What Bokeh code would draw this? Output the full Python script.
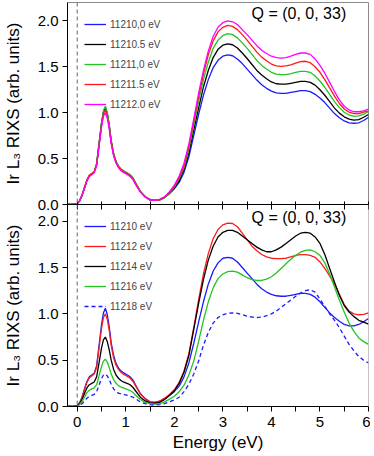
from bokeh.plotting import figure
from bokeh.models import (Range1d, FixedTicker, NumeralTickFormatter, Span, Label,
                          Legend, LegendItem)
from bokeh.layouts import column
from bokeh.embed import file_html
from bokeh.resources import INLINE

# ---------------- data ----------------
energy = [-0.2, -0.1, 0.0, 0.05, 0.1, 0.15, 0.2, 0.25, 0.3, 0.35,
          0.4, 0.45, 0.5, 0.54, 0.58, 0.62, 0.66, 0.7, 0.75, 0.8,
          0.85, 0.9, 0.95, 1.0, 1.05, 1.1, 1.15, 1.2, 1.3, 1.4,
          1.5, 1.6, 1.7, 1.8, 1.9,
          2.0, 2.1, 2.2, 2.3, 2.4, 2.5, 2.6, 2.7, 2.8, 2.9,
          3.0, 3.1, 3.2, 3.3, 3.4, 3.5, 3.6, 3.7, 3.8, 3.9,
          4.0, 4.1, 4.2, 4.3, 4.4, 4.5, 4.6, 4.7, 4.8, 4.9,
          5.0, 5.1, 5.2, 5.3, 5.4, 5.5, 5.6, 5.7, 5.8, 5.9,
          6.0]

# top panel: incident energies 11210.0 ... 11212.0 eV
top_labels = ["11210,0 eV", "11210.5 eV", "11211,0 eV", "11211.5 eV", "11212.0 eV"]
top_colors = ["#1a1aff", "#000000", "#22c322", "#ff1a1a", "#ff00ff"]

top_11210_0 = [0, 0, 0.01, 0.04, 0.10, 0.18, 0.26, 0.31, 0.33, 0.35,
               0.43, 0.65, 0.87, 1.00, 1.05, 0.98, 0.85, 0.68, 0.54, 0.46,
               0.41, 0.38, 0.36, 0.345, 0.33, 0.31, 0.28, 0.23, 0.14, 0.085,
               0.055, 0.045, 0.055, 0.08, 0.12,
               0.17, 0.24, 0.35, 0.52, 0.75, 0.98, 1.19, 1.36, 1.49, 1.57,
               1.615, 1.63, 1.62, 1.585, 1.535, 1.475, 1.415, 1.355, 1.305, 1.265,
               1.235, 1.215, 1.21, 1.21, 1.22, 1.23, 1.24, 1.24, 1.23, 1.20,
               1.16, 1.11, 1.05, 0.99, 0.945, 0.91, 0.89, 0.885, 0.89, 0.915,
               0.95]
top_11210_5 = [0, 0, 0.01, 0.04, 0.10, 0.18, 0.26, 0.315, 0.335, 0.355,
               0.44, 0.66, 0.88, 1.01, 1.06, 0.99, 0.86, 0.69, 0.55, 0.465,
               0.415, 0.385, 0.365, 0.35, 0.335, 0.315, 0.285, 0.235, 0.14, 0.085,
               0.05, 0.045, 0.05, 0.075, 0.12,
               0.18, 0.26, 0.38, 0.56, 0.81, 1.05, 1.28, 1.46, 1.60, 1.69,
               1.735, 1.75, 1.74, 1.705, 1.65, 1.59, 1.525, 1.46, 1.41, 1.37,
               1.335, 1.315, 1.31, 1.31, 1.32, 1.33, 1.34, 1.34, 1.33, 1.30,
               1.25, 1.19, 1.12, 1.05, 0.995, 0.955, 0.93, 0.92, 0.925, 0.95,
               0.98]
top_11211_0 = [0, 0, 0.01, 0.04, 0.10, 0.19, 0.27, 0.32, 0.34, 0.36,
               0.45, 0.67, 0.89, 1.02, 1.07, 1.00, 0.87, 0.70, 0.56, 0.47,
               0.42, 0.39, 0.37, 0.355, 0.34, 0.32, 0.29, 0.24, 0.145, 0.085,
               0.05, 0.045, 0.05, 0.075, 0.125,
               0.19, 0.28, 0.40, 0.60, 0.86, 1.12, 1.36, 1.55, 1.70, 1.79,
               1.84, 1.86, 1.85, 1.815, 1.76, 1.70, 1.635, 1.57, 1.515, 1.475,
               1.44, 1.42, 1.415, 1.415, 1.425, 1.44, 1.45, 1.45, 1.44, 1.40,
               1.345, 1.275, 1.20, 1.12, 1.055, 1.005, 0.975, 0.96, 0.965, 0.985,
               1.01]
top_11211_5 = [0, 0, 0.01, 0.04, 0.10, 0.185, 0.265, 0.315, 0.335, 0.355,
               0.44, 0.65, 0.86, 0.985, 1.03, 0.965, 0.84, 0.68, 0.545, 0.46,
               0.41, 0.38, 0.36, 0.345, 0.33, 0.31, 0.28, 0.23, 0.14, 0.085,
               0.05, 0.045, 0.05, 0.08, 0.13,
               0.20, 0.29, 0.42, 0.63, 0.90, 1.17, 1.42, 1.63, 1.78, 1.88,
               1.93, 1.95, 1.94, 1.905, 1.85, 1.79, 1.725, 1.66, 1.605, 1.565,
               1.53, 1.51, 1.505, 1.51, 1.52, 1.54, 1.555, 1.56, 1.545, 1.50,
               1.44, 1.36, 1.27, 1.18, 1.10, 1.04, 1.005, 0.99, 0.99, 1.005,
               1.02]
top_11212_0 = [0, 0, 0.01, 0.04, 0.10, 0.18, 0.26, 0.305, 0.325, 0.345,
               0.42, 0.63, 0.84, 0.96, 1.00, 0.94, 0.82, 0.66, 0.53, 0.45,
               0.40, 0.37, 0.35, 0.335, 0.32, 0.30, 0.27, 0.22, 0.135, 0.08,
               0.05, 0.045, 0.055, 0.085, 0.14,
               0.21, 0.31, 0.45, 0.66, 0.93, 1.21, 1.46, 1.67, 1.83, 1.93,
               1.98, 2.00, 1.99, 1.96, 1.905, 1.85, 1.79, 1.73, 1.68, 1.645,
               1.615, 1.60, 1.595, 1.60, 1.615, 1.635, 1.65, 1.65, 1.635, 1.585,
               1.515, 1.43, 1.33, 1.23, 1.14, 1.07, 1.03, 1.01, 1.01, 1.02,
               1.04]

# bottom panel: incident energies 11210 ... 11218 eV
bot_labels = ["11210 eV", "11212 eV", "11214 eV", "11216 eV", "11218 eV"]
bot_colors = ["#1a1aff", "#ff1a1a", "#000000", "#22c322", "#1a1aff"]
bot_dashes = ["solid", "solid", "solid", "solid", "4 3"]

bot_11210 = [0, 0, 0.01, 0.04, 0.10, 0.19, 0.27, 0.32, 0.34, 0.36,
             0.44, 0.66, 0.88, 1.01, 1.06, 0.99, 0.86, 0.69, 0.55, 0.465,
             0.415, 0.385, 0.365, 0.35, 0.335, 0.315, 0.285, 0.235, 0.14, 0.085,
             0.05, 0.045, 0.055, 0.08, 0.12,
             0.16, 0.22, 0.32, 0.47, 0.68, 0.91, 1.13, 1.32, 1.46, 1.55,
             1.60, 1.61, 1.60, 1.56, 1.50, 1.44, 1.38, 1.32, 1.27, 1.235,
             1.21, 1.195, 1.19, 1.19, 1.20, 1.21, 1.22, 1.22, 1.21, 1.18,
             1.13, 1.07, 1.01, 0.96, 0.92, 0.885, 0.87, 0.87, 0.885, 0.915,
             0.95]
bot_11212 = [0, 0, 0.01, 0.04, 0.10, 0.18, 0.26, 0.31, 0.33, 0.35,
             0.42, 0.63, 0.84, 0.96, 1.00, 0.94, 0.82, 0.66, 0.525, 0.445,
             0.40, 0.37, 0.35, 0.335, 0.32, 0.30, 0.27, 0.225, 0.135, 0.08,
             0.05, 0.045, 0.06, 0.09, 0.13,
             0.18, 0.26, 0.38, 0.57, 0.85, 1.15, 1.43, 1.65, 1.81, 1.91,
             1.96, 1.98, 1.975, 1.94, 1.87, 1.80, 1.73, 1.68, 1.64, 1.615,
             1.60, 1.595, 1.595, 1.60, 1.615, 1.63, 1.64, 1.64, 1.63, 1.61,
             1.56, 1.49, 1.41, 1.32, 1.21, 1.10, 1.03, 1.00, 0.99, 0.995,
             1.01]
bot_11214 = [0, 0, 0.005, 0.03, 0.075, 0.14, 0.20, 0.235, 0.25, 0.265,
             0.32, 0.47, 0.63, 0.72, 0.75, 0.70, 0.61, 0.50, 0.40, 0.34,
             0.305, 0.28, 0.265, 0.255, 0.245, 0.23, 0.205, 0.17, 0.10, 0.06,
             0.04, 0.035, 0.045, 0.075, 0.12,
             0.17, 0.25, 0.37, 0.55, 0.83, 1.11, 1.37, 1.58, 1.73, 1.83,
             1.88, 1.90, 1.90, 1.88, 1.84, 1.80, 1.76, 1.72, 1.69, 1.67,
             1.67, 1.69, 1.72, 1.76, 1.80, 1.84, 1.87, 1.88, 1.87, 1.83,
             1.76, 1.64, 1.49, 1.34, 1.20, 1.09, 1.02, 0.97, 0.93, 0.91,
             0.89]
bot_11216 = [0, 0, 0.005, 0.02, 0.055, 0.10, 0.15, 0.175, 0.19, 0.20,
             0.235, 0.33, 0.43, 0.49, 0.51, 0.48, 0.42, 0.35, 0.29, 0.25,
             0.225, 0.21, 0.20, 0.19, 0.18, 0.17, 0.15, 0.125, 0.075, 0.045,
             0.03, 0.025, 0.03, 0.05, 0.08,
             0.11, 0.16, 0.23, 0.34, 0.49, 0.70, 0.93, 1.13, 1.28, 1.38,
             1.43, 1.455, 1.46, 1.45, 1.42, 1.39, 1.37, 1.36, 1.36, 1.375,
             1.40, 1.44, 1.49, 1.54, 1.59, 1.63, 1.665, 1.685, 1.69, 1.67,
             1.63, 1.55, 1.43, 1.29, 1.15, 1.02, 0.90, 0.81, 0.74, 0.70,
             0.67]
bot_11218 = [0, 0, 0.0, 0.01, 0.03, 0.06, 0.09, 0.11, 0.12, 0.13,
             0.16, 0.23, 0.30, 0.34, 0.35, 0.33, 0.29, 0.24, 0.19, 0.16,
             0.145, 0.135, 0.13, 0.125, 0.12, 0.11, 0.10, 0.085, 0.05, 0.03,
             0.02, 0.015, 0.02, 0.03, 0.05,
             0.07, 0.10, 0.16, 0.24, 0.35, 0.49, 0.66, 0.80, 0.90, 0.96,
             0.99, 1.005, 1.01, 1.005, 0.99, 0.975, 0.965, 0.96, 0.965, 0.98,
             1.00, 1.03, 1.07, 1.11, 1.15, 1.19, 1.225, 1.25, 1.26, 1.235,
             1.16, 1.08, 1.00, 0.93, 0.85, 0.76, 0.67, 0.60, 0.54, 0.50,
             0.47]

x_major = [0, 1, 2, 3, 4, 5, 6]
x_minor = [0.5, 1.5, 2.5, 3.5, 4.5, 5.5]
x_all = [0, 0.5, 1, 1.5, 2, 2.5, 3, 3.5, 4, 4.5, 5, 5.5, 6]
y_major = [0, 0.5, 1.0, 1.5, 2.0]

y_label = "Ir L\u2083 RIXS (arb. units)"
x_label = "Energy (eV)"
q_text = "Q = (0, 0, 33)"

FONT = "Liberation Sans"
W = 370
OVER = 9          # px by which the lower panel overlaps the upper one's border
FRAME1 = 202
FRAME2 = 202
BOTTOM = 50
xr = Range1d(-0.2, 6.0)


def make_fig(height, yend, top_border, bottom_border):
    p = figure(width=W, height=height, x_range=xr, y_range=Range1d(0, yend),
               output_backend="svg", toolbar_location=None,
               min_border_left=64, min_border_right=2,
               min_border_top=top_border, min_border_bottom=bottom_border)
    p.xgrid.visible = False
    p.ygrid.visible = False

    ya = p.yaxis[0]
    ya.ticker = FixedTicker(ticks=y_major)
    ya.formatter = NumeralTickFormatter(format="0.0")
    ya.major_tick_out = 5
    ya.major_tick_in = 0
    ya.minor_tick_out = 0
    ya.minor_tick_in = 0
    ya.major_label_standoff = 4
    ya.major_label_text_font = FONT
    ya.major_label_text_font_size = "15px"
    ya.major_label_text_color = "black"
    ya.axis_label = y_label
    ya.axis_label_text_font = FONT
    ya.axis_label_text_font_size = "17px"
    ya.axis_label_text_font_style = "normal"
    ya.axis_label_text_color = "black"
    ya.axis_label_standoff = 12
    ya.axis_line_color = "black"
    ya.major_tick_line_color = "black"

    xa = p.xaxis[0]
    xa.axis_line_color = "black"
    xa.major_tick_line_color = "black"
    xa.minor_tick_line_color = "black"

    p.add_layout(Span(location=0, dimension="height", line_color="#666666",
                      line_dash="4 3", line_width=1))
    return p


# ---------------- top panel ----------------
H1 = 2 + FRAME1 + OVER
p1 = make_fig(H1, 2.2, 2, OVER)
p1.outline_line_color = "#8a8a8a"
xa1 = p1.xaxis[0]
xa1.ticker = FixedTicker(ticks=[], minor_ticks=x_all)   # ticks only, no labels
xa1.minor_tick_in = 3
xa1.minor_tick_out = 5
xa1.major_tick_in = 0
xa1.major_tick_out = 0

top_series = [top_11210_0, top_11210_5, top_11211_0, top_11211_5, top_11212_0]
items1 = []
for lab, col, ys in zip(top_labels, top_colors, top_series):
    r = p1.line(energy, ys, line_color=col, line_width=1.3)
    items1.append(LegendItem(label=lab, renderers=[r]))

leg1 = Legend(items=items1, location=(17, FRAME1 - 112),
              border_line_color=None, background_fill_alpha=0,
              padding=0, margin=0, spacing=0,
              glyph_width=22, glyph_height=20, label_height=20,
              label_standoff=4, label_text_font=FONT,
              label_text_font_size="10px")
p1.add_layout(leg1)
p1.add_layout(Label(x=3.59, y=2.08, text=q_text, text_font=FONT,
                    text_font_size="16px", text_baseline="middle",
                    text_color="black"))

# ---------------- bottom panel ----------------
H2 = FRAME2 + BOTTOM
p2 = make_fig(H2, 2.18, 0, BOTTOM)
p2.margin = (-OVER, 0, 0, 0)
p2.border_fill_alpha = 0
p2.background_fill_alpha = 0
p2.outline_line_color = None
p2.add_layout(Span(location=6.0, dimension="height", line_color="#8a8a8a",
                   line_width=1))
xa2 = p2.xaxis[0]
xa2.ticker = FixedTicker(ticks=x_major, minor_ticks=x_minor)
xa2.major_tick_out = 5
xa2.minor_tick_out = 5
xa2.major_tick_in = 0
xa2.minor_tick_in = 0
xa2.major_label_standoff = 5
xa2.major_label_text_font = FONT
xa2.major_label_text_font_size = "15px"
xa2.major_label_text_color = "black"
xa2.axis_label = x_label
xa2.axis_label_text_font = FONT
xa2.axis_label_text_font_size = "17px"
xa2.axis_label_text_font_style = "normal"
xa2.axis_label_text_color = "black"
xa2.axis_label_standoff = 3

bot_series = [bot_11210, bot_11212, bot_11214, bot_11216, bot_11218]
items2 = []
for lab, col, dash, ys in zip(bot_labels, bot_colors, bot_dashes, bot_series):
    r = p2.line(energy, ys, line_color=col, line_width=1.3, line_dash=dash)
    items2.append(LegendItem(label=lab, renderers=[r]))

leg2 = Legend(items=items2, location=(17, FRAME2 - 112),
              border_line_color=None, background_fill_alpha=0,
              padding=0, margin=0, spacing=0,
              glyph_width=22, glyph_height=20, label_height=20,
              label_standoff=4, label_text_font=FONT,
              label_text_font_size="10px")
p2.add_layout(leg2)
p2.add_layout(Label(x=3.59, y=2.04, text=q_text, text_font=FONT,
                    text_font_size="16px", text_baseline="middle",
                    text_color="black"))

layout = column(p1, p2, spacing=0)
open("out.html", "w").write(file_html(layout, INLINE))
